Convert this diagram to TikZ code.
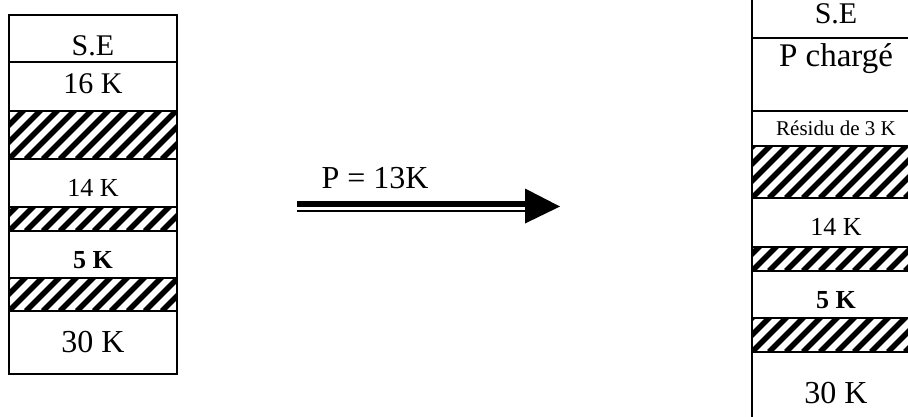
\documentclass[tikz,border=0pt]{standalone}
\usepackage{fontspec}
\setmainfont{Liberation Serif}
\usetikzlibrary{positioning,calc}

\begin{document}
\begin{tikzpicture}[x=1pt,y=1pt,node distance=0pt,
  cell/.style={draw,line width=1.5pt,minimum width=168pt,minimum height=#1,
               inner sep=0pt,outer sep=0pt},cell/.default=47pt,
  hatch/.style={cell=#1,line width=2.2pt,path picture={
      \foreach \i in {-4,...,11}
        \draw[line width=5.5pt] ($(path picture bounding box.south west)+(\i*17,0)$) -- ++(80,80);}},
  sz/.style={font=\fontsize{#1}{#1}\selectfont},
  low/.style={text height=#1}]
  \useasboundingbox (0,0) rectangle (908,-416);
  % memoire avant chargement
  \node[cell=47pt,sz=30,low=35pt,anchor=north west] (lse) at (9,-15) {S.E};
  \node[cell=49pt,sz=30,text depth=6pt,below=of lse] (l16) {16 K};
  \node[hatch=48pt,below=of l16] (lh1) {};
  \node[cell=48pt,sz=26,low=26pt,below=of lh1] (l14) {14 K};
  \node[hatch=24pt,below=of l14] (lh2) {};
  \node[cell=47pt,sz=26,low=29pt,below=of lh2] (l5) {\textbf{5 K}};
  \node[hatch=33pt,below=of l5] (lh3) {};
  \node[cell=63pt,sz=32,below=of lh3] (l30) {30 K};
  % fleche
  \coordinate (a0) at (297,-206);
  \coordinate (a1) at (525,-206);
  \coordinate (tip) at (560,-206.5);
  \draw[line width=6pt] ([yshift=2pt]a0) -- ([yshift=2pt]a1);
  \draw[line width=2pt] ([yshift=-4.5pt]a0) -- ([yshift=-4.5pt]a1);
  \fill ([yshift=17.5pt]a1) -- (tip) -- ([yshift=-17.5pt]a1) -- cycle;
  \node[sz=32] (plbl) at (375,-178) {P = 13K};
  % memoire apres chargement
  \begin{scope}[every node/.append style={minimum width=170pt}]
    \node[cell=48pt,sz=30,anchor=north west] (rse) at (752,10) {S.E};
    \node[cell=73pt,below=of rse] (rpc) {};
    \node[sz=33] (rpct) at ([yshift=16pt]rpc.center) {P chargé};
    \node[cell=35pt,sz=21,below=of rpc] (rres) {Résidu de 3 K};
    \node[hatch=52pt,below=of rres] (rh1) {};
    \node[cell=49pt,sz=26,low=26pt,below=of rh1] (r14) {14 K};
    \node[hatch=24pt,below=of r14] (rh2) {};
    \node[cell=47pt,sz=26,low=28pt,below=of rh2] (r5) {\textbf{5 K}};
    \node[hatch=34pt,below=of r5] (rh3) {};
    \node[cell=82pt,sz=32,below=of rh3] (r30) {30 K};
  \end{scope}
\end{tikzpicture}
\end{document}
